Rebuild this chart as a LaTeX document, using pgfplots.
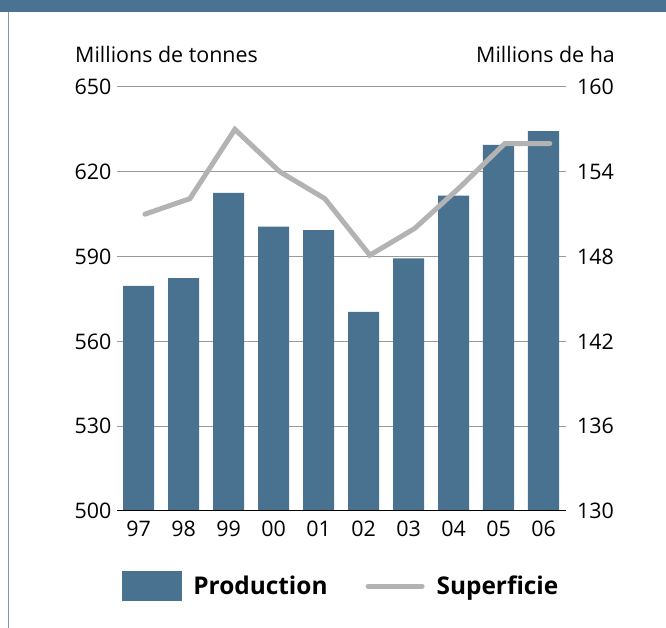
\documentclass[border=0pt]{standalone}
\usepackage{pgfplots}
\pgfplotsset{compat=1.18}
\usepackage{fontspec}
\setmainfont{Open Sans}
\definecolor{barblue}{HTML}{48728F}
\definecolor{linegray}{HTML}{B3B3B3}
\definecolor{gridgray}{HTML}{9A9A9A}
\definecolor{topband}{HTML}{4A7293}
\definecolor{sideline}{HTML}{7D9AB2}
\begin{document}
\begin{tikzpicture}
\useasboundingbox (0bp,0bp) rectangle (666bp,628bp);
\fill[white] (0bp,0bp) rectangle (666bp,628bp);
\fill[topband] (0bp,616bp) rectangle (666bp,628bp);
\draw[sideline, line width=1.2bp] (8.5bp,0bp) -- (8.5bp,616bp);
\node[anchor=base west, inner sep=0pt, font=\fontsize{21.5}{25}\selectfont] at (75bp,565bp) {Millions de tonnes};
\node[anchor=base east, inner sep=0pt, font=\fontsize{21.5}{25}\selectfont] at (615bp,565bp) {Millions de ha};
\begin{axis}[
  at={(117bp,117bp)}, anchor=south west,
  scale only axis, width=449bp, height=424bp,
  xmin=-0.48, xmax=9.5, ymin=500, ymax=650,
  ytick={500,530,...,650},
  xtick={0,...,9}, xticklabels={97,98,99,00,01,02,03,04,05,06},
  axis line style={draw=none},
  major tick length=0pt,
  ymajorgrids, major grid style={gridgray, line width=1bp},
  tick label style={font=\fontsize{21.5}{25}\selectfont},
  /pgf/number format/assume math mode=true,
  yticklabel style={/pgf/number format/1000 sep={}, xshift=-2bp},
  xticklabel style={yshift=-6bp},
]
\addplot[ybar, bar width=0.69, fill=barblue, draw=none] coordinates {
  (0,579.6) (1,582.4) (2,612.5) (3,600.6) (4,599.4) (5,570.4) (6,589.4) (7,611.6) (8,629.5) (9,634.4)
};
\draw[black, line width=2.5bp] (rel axis cs:0,0) -- (rel axis cs:1,0);
\end{axis}
\begin{axis}[
  at={(117bp,117bp)}, anchor=south west,
  scale only axis, width=449bp, height=424bp,
  xmin=-0.48, xmax=9.5, ymin=130, ymax=160,
  ytick={130,136,...,160},
  axis y line*=right, axis x line=none,
  axis line style={draw=none},
  major tick length=0pt,
  tick label style={font=\fontsize{21.5}{25}\selectfont},
  /pgf/number format/assume math mode=true,
  yticklabel style={xshift=7.5bp},
  legend style={draw=none, fill=none, at={(0.011,-0.177)}, anchor=west,
    legend columns=2, font=\bfseries\fontsize{24.5}{28}\selectfont,
    /tikz/every even column/.append style={column sep=36bp},
    inner sep=0pt},
  legend cell align=left,
]
\addlegendimage{legend image code/.code={\fill[barblue] (0bp,-14.5bp) rectangle (59bp,14.5bp); \path[draw=none, fill=none] (0bp,0bp) -- (69bp,0bp);}}
\addlegendentry{Production}
\addplot[linegray, line width=5bp, line cap=round, line join=miter,
  legend image code/.code={\draw[linegray, line width=5bp, line cap=round] (2.5bp,0bp) -- (56.5bp,0bp); \path[draw=none, fill=none] (0bp,0bp) -- (69bp,0bp);}]
  coordinates {
  (0.14,151.0) (1.14,152.1) (2.14,157.0) (3.14,154.0) (4.14,152.1) (5.14,148.1) (6.14,150.0) (7.14,152.9) (8.14,156.0) (9.14,156.0)
};
\addlegendentry{Superficie}
\end{axis}
\end{tikzpicture}
\end{document}
